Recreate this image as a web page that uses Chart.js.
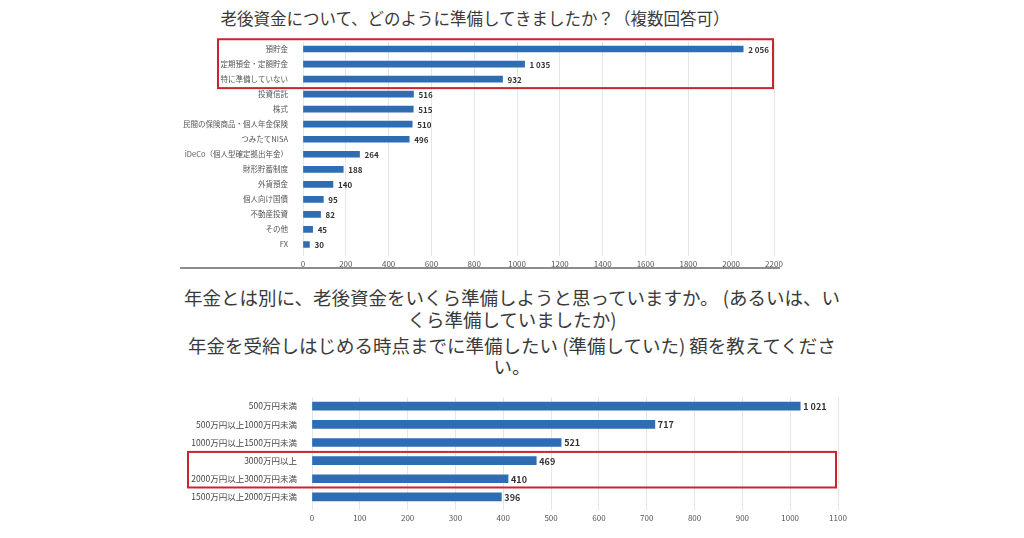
<!DOCTYPE html>
<html lang="ja">
<head>
<meta charset="utf-8">
<script src="https://cdn.jsdelivr.net/npm/chart.js@4/dist/chart.umd.min.js"></script>
<style>
  html, body { margin: 0; padding: 0; background: #ffffff; }
  body { width: 1024px; height: 538px; position: relative; overflow: hidden;
         font-family: "Noto Sans CJK JP", "Noto Sans", sans-serif; color: #333; }
  .title { position: absolute; text-align: center; white-space: nowrap; color: #3a3a3a; }
  .box { position: absolute; }
  #sep { position: absolute; left: 180px; top: 267px; width: 600px; height: 2px; background: #8c8c8c; }
</style>
</head>
<body>
<div class="title" id="t1" style="left:175px; width:600px; top:6px; font-size:16.5px; line-height:24px;">老後資金について、どのように準備してきましたか？（複数回答可）</div>
<div class="box" style="left:160px; top:30px; width:630px; height:242px;"><canvas id="c1"></canvas></div>
<div id="sep"></div>
<div class="title" id="t2" style="left:162px; width:700px; top:286px; font-size:18.5px; line-height:22px;">年金とは別に、老後資金をいくら準備しようと思っていますか。 (あるいは、い<br>くら準備していましたか)</div>
<div class="title" id="t3" style="left:162px; width:700px; top:335px; font-size:18.5px; line-height:21px;">年金を受給しはじめる時点までに準備したい (準備していた) 額を教えてくださ<br>い。</div>
<div class="box" style="left:170px; top:385px; width:684px; height:141px;"><canvas id="c2"></canvas></div>
<script>
// ---- data: chart 1 ----
const categories1 = ["預貯金", "定期預金・定額貯金", "特に準備していない", "投資信託", "株式",
  "民間の保険商品・個人年金保険", "つみたてNISA", "iDeCo（個人型確定拠出年金）", "財形貯蓄制度",
  "外貨預金", "個人向け国債", "不動産投資", "その他", "FX"];
const values1 = [2056, 1035, 932, 516, 515, 510, 496, 264, 188, 140, 95, 82, 45, 30];
const ticks1 = [0, 200, 400, 600, 800, 1000, 1200, 1400, 1600, 1800, 2000, 2200];
const highlight1 = [0, 2];

// ---- data: chart 2 ----
const categories2 = ["500万円未満", "500万円以上1000万円未満", "1000万円以上1500万円未満",
  "3000万円以上", "2000万円以上3000万円未満", "1500万円以上2000万円未満"];
const values2 = [1021, 717, 521, 469, 410, 396];
const ticks2 = [0, 100, 200, 300, 400, 500, 600, 700, 800, 900, 1000, 1100];
const highlight2 = [3, 4];

const BAR = "#2e6db3";
const RED = "#c9252e";
const FONT = "'Noto Sans CJK JP', 'Noto Sans', sans-serif";

function fmt(v) { return String(v).replace(/\B(?=(\d{3})+(?!\d))/g, " "); }

const valueLabels = {
  id: "valueLabels",
  afterDatasetsDraw(chart, args, opts) {
    const ctx = chart.ctx;
    const meta = chart.getDatasetMeta(0);
    const data = chart.data.datasets[0].data;
    ctx.save();
    ctx.font = "bold " + opts.size + "px " + FONT;
    ctx.fillStyle = "#333";
    ctx.textBaseline = "middle";
    ctx.textAlign = "left";
    meta.data.forEach((bar, i) => {
      ctx.fillText(fmt(data[i]), bar.x + opts.gap, bar.y + 0.5);
    });
    ctx.restore();
  }
};

const redBox = {
  id: "redBox",
  afterDraw(chart, args, opts) {
    const y = chart.scales.y;
    const band = y.getPixelForValue(1) - y.getPixelForValue(0);
    const top = y.getPixelForValue(opts.from) - band * opts.padTop;
    const bottom = y.getPixelForValue(opts.to) + band * opts.padBottom;
    const left = chart.chartArea.left - opts.leftOff;
    const right = chart.chartArea.right - opts.rightOff;
    const ctx = chart.ctx;
    ctx.save();
    ctx.strokeStyle = RED;
    ctx.lineWidth = 2;
    ctx.strokeRect(left, top, right - left, bottom - top);
    ctx.restore();
  }
};

function makeChart(id, cats, vals, tickVals, yWidth, barThick, hl, boxOpts, padTop, labelSize, valOpts, labelColor) {
  return new Chart(document.getElementById(id), {
    type: "bar",
    data: { labels: cats, datasets: [{ data: vals, backgroundColor: BAR, borderWidth: 0, barThickness: barThick }] },
    options: {
      indexAxis: "y",
      responsive: true,
      maintainAspectRatio: false,
      animation: false,
      layout: { padding: { top: padTop, right: 16, left: 0, bottom: 0 } },
      plugins: {
        legend: { display: false },
        tooltip: { enabled: false },
        valueLabels: valOpts,
        redBox: Object.assign({ from: hl[0], to: hl[1] }, boxOpts)
      },
      scales: {
        x: {
          min: tickVals[0], max: tickVals[tickVals.length - 1],
          afterBuildTicks(scale) { scale.ticks = tickVals.map(v => ({ value: v })); },
          afterFit(scale) { scale.height = 20; },
          grid: { color: "#e6e6e6", lineWidth: 1, tickLength: 4, drawTicks: true },
          border: { display: false },
          ticks: { font: { size: 8, family: FONT }, color: "#555", padding: 3, maxRotation: 0, autoSkip: false,
                   callback: (v) => String(v) }
        },
        y: {
          afterFit(scale) { scale.width = yWidth; },
          grid: { display: false },
          border: { display: false },
          ticks: { font: { size: labelSize, family: FONT }, color: labelColor, padding: 7, autoSkip: false }
        }
      }
    },
    plugins: [valueLabels, redBox]
  });
}

makeChart("c1", categories1, values1, ticks1, 143, 6, highlight1,
  { padTop: 0.65, padBottom: 0.6, leftOff: 85, rightOff: 1 }, 10.5, 7.5, { size: 8, gap: 5 }, "#555");
makeChart("c2", categories2, values2, ticks2, 142, 8, highlight2,
  { padTop: 0.48, padBottom: 0.48, leftOff: 124, rightOff: 2 }, 7.6, 8.5, { size: 9, gap: 3 }, "#444");
</script>
</body>
</html>
